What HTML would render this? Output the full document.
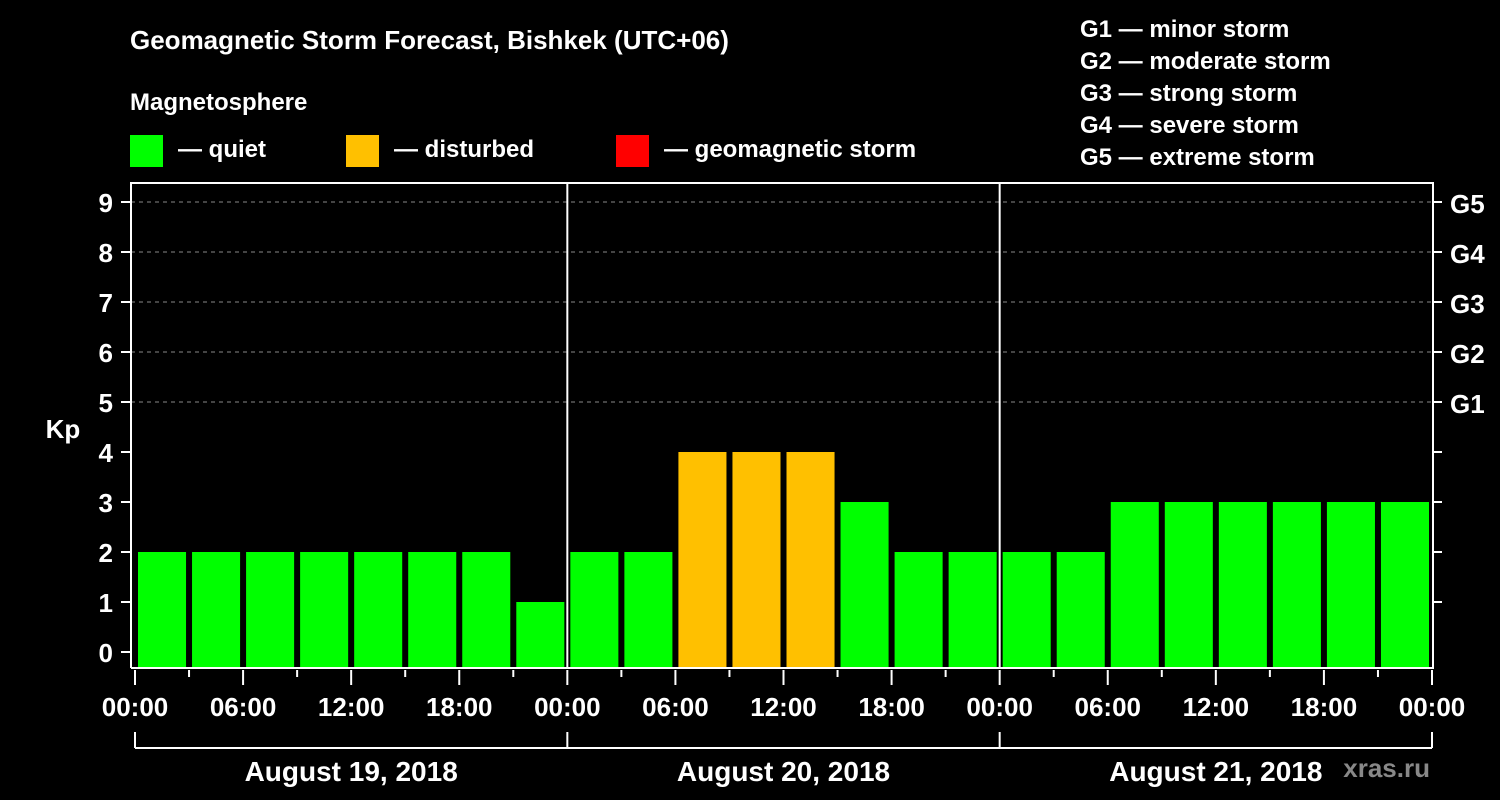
<!DOCTYPE html>
<html><head><meta charset="utf-8"><style>
body{margin:0;background:#000;}
svg{display:block;font-family:"Liberation Sans",sans-serif;font-weight:bold;}
</style></head><body>
<svg id="c" width="1500" height="800" viewBox="0 0 1500 800">
<rect width="1500" height="800" fill="#000"/>
<text x="130" y="49" fill="#fff" font-size="26">Geomagnetic Storm Forecast, Bishkek (UTC+06)</text>
<text x="130" y="110" fill="#fff" font-size="24">Magnetosphere</text>
<g><rect x="130" y="135" width="33" height="32" fill="#00ff00"/><text x="178" y="157" fill="#fff" font-size="24">— quiet</text></g>
<g><rect x="346" y="135" width="33" height="32" fill="#ffc000"/><text x="394" y="157" fill="#fff" font-size="24">— disturbed</text></g>
<g><rect x="616" y="135" width="33" height="32" fill="#ff0000"/><text x="664" y="157" fill="#fff" font-size="24">— geomagnetic storm</text></g>
<g fill="#fff" font-size="24">
<text x="1080" y="37">G1 — minor storm</text>
<text x="1080" y="69">G2 — moderate storm</text>
<text x="1080" y="101">G3 — strong storm</text>
<text x="1080" y="133">G4 — severe storm</text>
<text x="1080" y="165">G5 — extreme storm</text>
</g>
<text x="63" y="438" fill="#fff" font-size="26" text-anchor="middle">Kp</text>
<text x="1430" y="777" fill="#888" font-size="26" text-anchor="end">xras.ru</text>
<g id="grid"></g><g id="bars"></g><g id="axes"></g>
</svg>
<script>
const kpValues=[2,2,2,2,2,2,2,1, 2,2,4,4,4,3,2,2, 2,2,3,3,3,3,3,3];
const dayLabels=["August 19, 2018","August 20, 2018","August 21, 2018"];
const timeLabels=["00:00","06:00","12:00","18:00"];
const yTicks=[0,1,2,3,4,5,6,7,8,9];
const gLabels=["G1","G2","G3","G4","G5"];
const NS="http://www.w3.org/2000/svg";
const x0=135,x1=1432,slot=(x1-x0)/kpValues.length;
const xs=i=>x0+i*slot;
const ys=v=>652-v*50;
function mk(p,t,a){const e=document.createElementNS(NS,t);for(const k in a)e.setAttribute(k,a[k]);document.getElementById(p).appendChild(e);return e;}
const col=v=>v>=5?"#ff0000":v>=4?"#ffc000":"#00ff00";
kpValues.forEach((v,i)=>{
 const r=mk("bars","rect",{x:xs(i)+3,y:ys(v),width:slot-6,height:667-ys(v),fill:col(v)});
 
 
});
yTicks.forEach(v=>{
 const y=ys(v);
 if(v>=5){const g=mk("grid","line",{x1:131,x2:1433,y1:y,y2:y,stroke:"#888","stroke-dasharray":"4,4","stroke-width":1});
  }
 mk("axes","line",{x1:121,x2:131,y1:y,y2:y,stroke:"#fff","stroke-width":2});
 if(v>=1) mk("axes","line",{x1:1433,x2:1442,y1:y,y2:y,stroke:"#fff","stroke-width":2});
 const t=mk("axes","text",{x:113,y:y+10,fill:"#fff","font-size":26,"text-anchor":"end"});t.textContent=v;
 
 if(v>=5){const g=mk("axes","text",{x:1450,y:y+11,fill:"#fff","font-size":26});g.textContent=gLabels[v-5];
  }
});
mk("axes","polyline",{points:"131,668 131,183 1433,183 1433,668 131,668",fill:"none",stroke:"#fff","stroke-width":2});
for(let d=1;d<dayLabels.length;d++){const x=xs(d*8);mk("axes","line",{x1:x,x2:x,y1:183,y2:668,stroke:"#fff","stroke-width":2});}
for(let i=0;i<=kpValues.length;i++){
 const x=xs(i),maj=i%2===0;
 mk("axes","line",{x1:x,x2:x,y1:670,y2:maj?685:677,stroke:"#fff","stroke-width":2});
 if(maj){const t=mk("axes","text",{x:x,y:716,fill:"#fff","font-size":26,"text-anchor":"middle"});
  t.textContent=timeLabels[(i/2)%4];}
}
mk("axes","line",{x1:x0,x2:x1,y1:748,y2:748,stroke:"#fff","stroke-width":2});
for(let d=0;d<=dayLabels.length;d++){const x=xs(d*8);mk("axes","line",{x1:x,x2:x,y1:732,y2:748,stroke:"#fff","stroke-width":2});}
dayLabels.forEach((l,d)=>{const t=mk("axes","text",{x:xs(d*8+4),y:781,fill:"#fff","font-size":28,"text-anchor":"middle"});
 t.textContent=l;});
</script>
</body></html>
